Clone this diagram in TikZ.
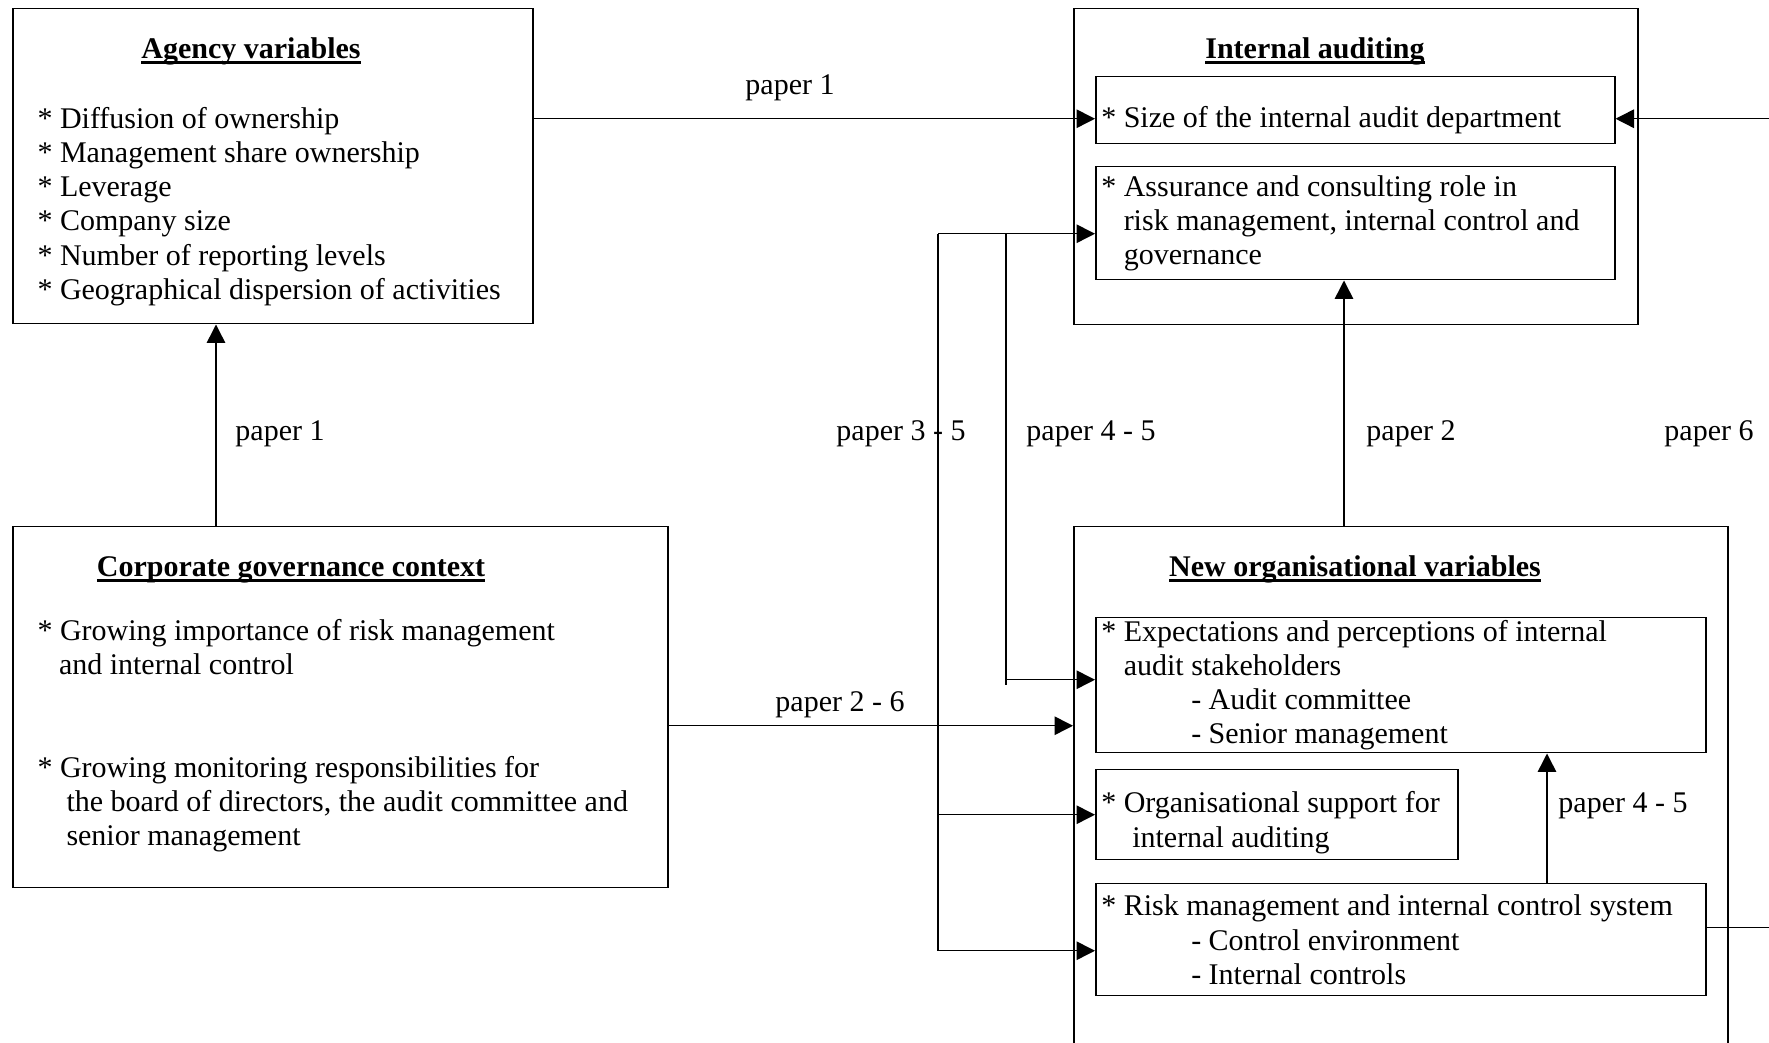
\documentclass[tikz,border=0pt]{standalone}
\usepackage{fontspec}
\setmainfont{Liberation Serif}
\usetikzlibrary{arrows.meta}
\newcommand{\ulbf}[1]{\setbox0\hbox{\textbf{#1}}\rlap{\rule[-2pt]{\wd0}{1pt}}\box0}
\newcommand{\ind}[1]{\hspace*{#1pt}}
\tikzset{
  box/.style={draw, line width=0.6pt, anchor=north west, inner sep=0pt},
  txtbox/.style={draw, line width=0.6pt, anchor=north west, inner xsep=2.2pt, inner ysep=0pt, align=flush left},
  items/.style={anchor=north west, inner sep=0pt, align=left},
  ttl/.style={anchor=base, inner sep=0pt},
  lbl/.style={anchor=base, inner sep=0pt},
  arr/.style={line width=0.6pt, -{Triangle[length=7.4pt,width=7.4pt]}},
  con/.style={line width=0.6pt}
}
\begin{document}
\begin{tikzpicture}[x=0.4pt, y=-0.4pt, font=\fontsize{12}{13.7}\selectfont]
    \useasboundingbox (0,0) rectangle (1769,1043);
    % outer boxes
    \node [box, minimum width=208pt, minimum height=126pt] (agency) at (12,8) {};
    \node [box, minimum width=225.6pt, minimum height=126.4pt] (intaud) at (1073,8) {};
    \node [box, minimum width=262pt, minimum height=144.4pt] (corp) at (12,526) {};
    \node [box, minimum width=261.6pt, minimum height=220pt] (neworg) at (1073,526) {};
    % titles
    \node [ttl] (agttl) at (251,59) {\ulbf{Agency variables}};
    \node [ttl] (iattl) at (1315,59) {\ulbf{Internal auditing}};
    \node [ttl] (cgttl) at (291,577) {\ulbf{Corporate governance context}};
    \node [ttl] (nottl) at (1355,577) {\ulbf{New organisational variables}};
    % item lists
    \node [items] (agitems) at (37,106.5) {* Diffusion of ownership\\
        * Management share ownership\\
        * Leverage\\
        * Company size\\
        * Number of reporting levels\\
        * Geographical dispersion of activities};
    \node [items] (cgitems) at (37,618.5) {* Growing importance of risk management\\
        \ind{8.6}and internal control\\[27.4pt]
        * Growing monitoring responsibilities for\\
        \ind{11.6}the board of directors, the audit committee and\\
        \ind{11.6}senior management};
    % inner boxes
    \node [txtbox, text width=203.2pt, minimum height=26.8pt, text height=16.6pt, text depth=2.6pt] (size) at (1095,76)
        {* Size of the internal audit department};
    \node [txtbox, text width=203.2pt, minimum height=45.2pt] (assur) at (1095,166)
        {* Assurance and consulting role in\\ \ind{9}risk management, internal control and\\ \ind{9}governance};
    \node [txtbox, text width=239.6pt, minimum height=54pt] (expect) at (1095,617)
        {* Expectations and perceptions of internal\\ \ind{9}audit stakeholders\\ \ind{36}- Audit committee\\ \ind{36}- Senior management};
    \node [txtbox, text width=140.4pt, minimum height=36pt, text height=14.7pt] (orgsup) at (1095,769)
        {* Organisational support for\\ \ind{12.4}internal auditing};
    \node [txtbox, text width=239.6pt, minimum height=44.8pt] (risk) at (1095,883)
        {* Risk management and internal control system\\ \ind{36}- Control environment\\ \ind{36}- Internal controls};
    % helper coordinates
    \coordinate (rim) at (1769,0);
    \coordinate (xa) at (216,0);
    \coordinate (xb) at (1344,0);
    \coordinate (xc) at (1547,0);
    \coordinate (tka) at (938,0);
    \coordinate (tkb) at (1006,0);
    \coordinate (sizein) at ([yshift=-3.4pt]size.west);
    \coordinate (sizeinr) at ([yshift=-3.4pt]size.east);
    \coordinate (assurin) at ([yshift=-4.2pt]assur.west);
    \coordinate (expin) at ([yshift=2.2pt]expect.west);
    \coordinate (riskin) at ([yshift=-4.4pt]risk.west);
    \coordinate (riskout) at ([yshift=4.8pt]risk.east);
    \coordinate (cgout) at ([yshift=-7.4pt]corp.east);
    % connectors
    \draw [arr] (agency.east |- sizein) -- (sizein);
    \draw [arr] (sizeinr -| rim) -- (sizeinr);
    \draw [con] (riskout) -- (riskout -| rim);
    \draw [arr] (corp.north -| xa) -- (agency.south -| xa);
    \draw [arr] (cgout) -- (cgout -| neworg.west);
    \draw [arr] (neworg.north -| xb) -- (assur.south -| xb);
    \draw [arr] (risk.north -| xc) -- (expect.south -| xc);
    \draw [arr] (assurin -| tka) -- (assurin);
    \draw [arr] (assurin -| tka) |- (riskin);
    \draw [arr] (tka |- orgsup.west) -- (orgsup.west);
    \draw [con] (tkb |- assurin) -- (tkb |- expect.west);
    \draw [arr] (tkb |- expin) -- (expin);
    % labels
    \node [lbl] (p1a) at (790,95) {paper 1};
    \node [lbl] (p1b) at (280,441) {paper 1};
    \node [lbl] (p35) at (901,441) {paper 3 - 5};
    \node [lbl] (p45a) at (1091,441) {paper 4 - 5};
    \node [lbl] (p2) at (1411,441) {paper 2};
    \node [lbl] (p6) at (1709,441) {paper 6};
    \node [lbl] (p26) at (840,712) {paper 2 - 6};
    \node [lbl] (p45b) at (1623,813) {paper 4 - 5};
\end{tikzpicture}
\end{document}
